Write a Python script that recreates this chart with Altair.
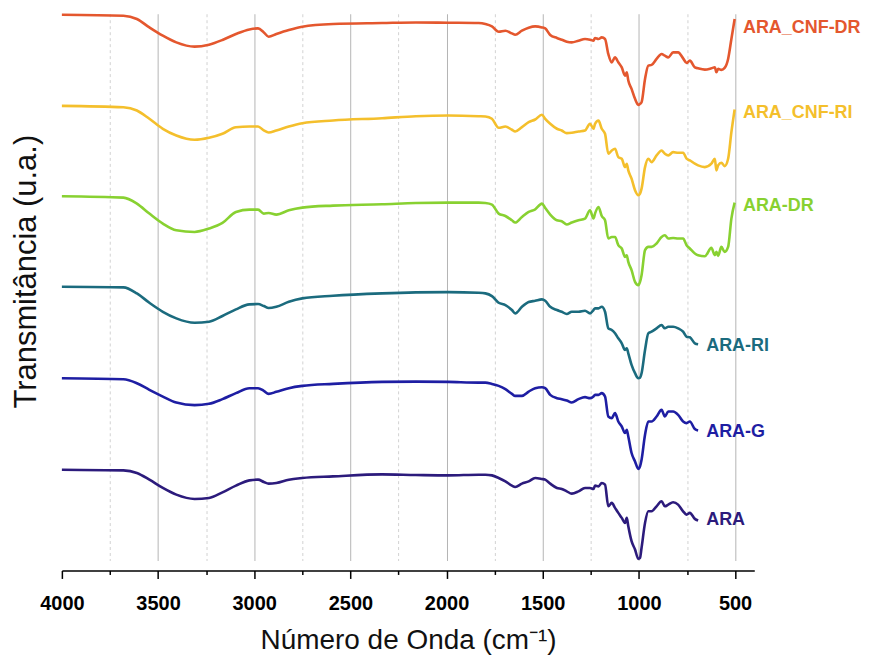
import altair as alt
import pandas as pd

# Wavenumber grid (cm-1)
wavenumber = [4000, 3680, 3610, 3545, 3475, 3405, 3310, 3235, 3165, 3095, 3025, 2980, 2950, 2925, 2885,
              2820, 2750, 2590, 2335, 2160, 1990,
              1833, 1798, 1764, 1729, 1694, 1660, 1643, 1608, 1573, 1539,
              1504, 1487, 1461, 1426, 1401, 1375, 1349, 1314, 1280, 1254,
              1236, 1228, 1210, 1193, 1176, 1159, 1141, 1124, 1107, 1089,
              1072, 1063, 1055, 1038, 1020, 1003, 994, 986, 968, 951,
              934, 908, 882, 865, 847, 822, 796, 770, 752, 735,
              709, 692,
              657, 623, 605, 597, 588, 571, 554, 536, 519, 502]

series_names = ["ARA_CNF-DR", "ARA_CNF-RI", "ARA-DR", "ARA-RI", "ARA-G", "ARA"]
series_colors = ["#E4572E", "#F4BF2C", "#88D131", "#1B6B7E", "#1E1EA3", "#2C1B7C"]

t_ara_cnf_dr = [586, 585, 581.7, 573.3, 565, 558.3, 554, 556, 560.7, 566.7, 571.3, 572.3, 568.3, 564, 566.7,
                570.7, 574, 576.7, 577.7, 578.3, 578,
                577.7, 576.7, 574.3, 569, 570, 567.3, 566, 570, 573, 574.3,
                573.3, 572.3, 565.7, 562.7, 561, 559, 558.3, 560, 561.7, 561,
                560, 562.7, 561.7, 563.3, 561.7, 546.7, 538.3, 543.3, 538.3, 533.3,
                525, 528.3, 520, 511.7, 501.7, 495.7, 496.7, 498.3, 521.7, 535,
                535.7, 541.7, 546.7, 545, 543.3, 548.3, 548.3, 542.3, 537.7, 540,
                533.3, 532.3,
                531, 532.3, 533.3, 528.3, 531.7, 530.7, 532.7, 541.7, 561.7, 581.7]

t_ara_cnf_ri = [494.7, 493.3, 490, 481.7, 471.7, 465, 460.7, 462.7, 466.7, 473.3, 474, 474, 470, 468, 470,
                474, 477.3, 480, 482.3, 484.3, 485,
                484.3, 484, 481.7, 472.7, 474, 470.7, 469, 473.3, 478.3, 481,
                485.7, 481.7, 476.7, 471.7, 470, 467.3, 467.7, 469, 470, 476.7,
                471.7, 476.7, 480, 471.7, 466.7, 446.7, 450, 451.7, 443.3, 441.7,
                433.3, 436.7, 430, 421.7, 410, 405, 406.7, 411.7, 433.3, 441.7,
                438.3, 445, 450, 446.7, 445, 448.3, 447.7, 447.7, 441.7, 440,
                436.7, 435,
                433.3, 436.7, 441.7, 430, 435, 437.7, 434.3, 441.7, 468.3, 491]

t_ara_dr = [404, 402.7, 396.7, 386.7, 376.7, 370, 368.3, 371.7, 377.3, 388.3, 390.7, 390.7, 386.7, 387.3, 385.7,
            390, 392.7, 394.7, 396, 397.3, 397.7,
            397.7, 397.3, 395.7, 386.7, 384.3, 380, 377.7, 383.3, 388.3, 391,
            396.7, 392.3, 385.7, 380, 379, 375.7, 377.7, 380, 381.7, 390,
            381.7, 386.7, 393.3, 384.3, 380, 361.7, 363.3, 363.3, 355, 351.7,
            343.3, 345, 338.3, 330, 318.3, 315, 318.3, 325, 350, 353.3,
            353.3, 356.7, 363.3, 365, 361.7, 362.3, 361.7, 361.7, 355, 351.7,
            346.7, 345,
            344, 352.3, 345, 348.3, 344.3, 353.3, 348.3, 353.3, 381.7, 397.7]

t_ara_ri = [313.3, 312.7, 306.7, 297.3, 288.3, 281.7, 277.3, 278.3, 284, 290.7, 295.7, 296, 294, 292, 293.3,
            298.3, 301.7, 304.3, 306.7, 307.7, 308,
            307.3, 306.7, 304, 297.3, 295, 290, 286.7, 293.3, 298, 299.3,
            300.7, 299.3, 293.3, 290, 288.3, 286, 288.3, 288.3, 289.3, 286.7,
            290, 291.7, 291.7, 293.3, 288.3, 271.7, 270, 266.7, 261.7, 256.7,
            250, 251.7, 246.7, 235, 226.7, 221.7, 222.3, 226.7, 250, 266.7,
            268.3, 271.7, 275, 271.7, 273.3, 273.3, 271.7, 268.3, 263.3, 262.7,
            256.7, 255.7]

t_ara_g = [221.7, 220.7, 216.7, 210, 203.3, 197.3, 194.7, 196, 200.7, 206.7, 211.7, 211.7, 209, 206, 208,
           211.7, 214, 216, 218, 218.3, 218,
           217.3, 217.3, 216, 214, 210.7, 206, 204, 204, 208.3, 211.7,
           212.7, 211.7, 205, 201.7, 200.7, 199.3, 197.3, 200.7, 202.7, 201.7,
           203.3, 205, 205, 206.7, 203.3, 183.3, 181.7, 186.7, 178.3, 173.3,
           166.7, 170, 163.3, 146.7, 138.3, 130.7, 133.3, 140, 165, 178.3,
           178.3, 183.3, 190, 183.3, 188.3, 188.3, 185, 178.3, 176.7, 178.3,
           170.7, 169.3]

t_ara = [130, 129.3, 126.7, 120, 111.7, 105, 100.7, 101.7, 107.3, 114, 119.3, 120, 117.7, 116, 116.7,
         120, 121.7, 123.3, 125.3, 124.7, 124.3,
         125, 125, 124.3, 121.7, 118.3, 114, 112.7, 116, 118.3, 121.7,
         120.7, 120, 116, 111.7, 110.7, 108.3, 106, 108.3, 111.7, 111.7,
         110.7, 114, 113.3, 116.7, 115, 93.3, 96.7, 91.7, 86.7, 81.7,
         76.7, 81.7, 73.3, 58.3, 50, 40.7, 41.7, 51.7, 76.7, 88.3,
         88.3, 93.3, 98.3, 93.3, 95, 97.3, 95, 88.3, 85, 86.7,
         80.7, 79]

# label anchor (wavenumber, transmittance) for each series name
label_wn = [459, 459, 459, 650, 650, 650]
label_t = [573, 488, 394, 254, 168, 80]

tick_values = [4000, 3750, 3500, 3250, 3000, 2750, 2500, 2250, 2000, 1750, 1500, 1250, 1000, 750, 500]

all_series = [t_ara_cnf_dr, t_ara_cnf_ri, t_ara_dr, t_ara_ri, t_ara_g, t_ara]
rows = []
for name, vals in zip(series_names, all_series):
    for w, v in zip(wavenumber, vals):
        rows.append({"series": name, "wn": w, "T": v})
df = pd.DataFrame(rows)
labels = pd.DataFrame({"series": series_names, "wn": label_wn, "T": label_t})

FONT = "Liberation Sans"

x_scale = alt.Scale(domain=[4000, 400], nice=False, zero=False)
y_scale = alt.Scale(domain=[39, 587], nice=False, zero=False)
color = alt.Color("series:N", scale=alt.Scale(domain=series_names, range=series_colors), legend=None)

x_axis = alt.Axis(
    values=tick_values,
    format="d",
    labelExpr="datum.value % 500 === 0 ? datum.label : ''",
    labelFlush=False,
    labelOverlap=False,
    labelFont=FONT,
    labelFontSize=20,
    labelFontWeight="bold",
    labelColor="#000000",
    labelPadding=15,
    title="Número de Onda (cm⁻¹)",
    titleFont=FONT,
    titleFontSize=28,
    titleFontWeight="normal",
    titleColor="#111111",
    titlePadding=13,
    offset=10,
    domainColor="#000000",
    domainWidth=1.5,
    tickColor="#000000",
    tickWidth=1.5,
    tickSize={"condition": {"test": "datum.value % 500 === 0", "value": 8}, "value": 4},
    grid=True,
    gridColor={"condition": {"test": "datum.value % 500 === 0", "value": "#b5b5b5"}, "value": "#d2d2d2"},
    gridDash={"condition": {"test": "datum.value % 500 === 0", "value": []}, "value": [3, 3]},
    gridOpacity={"condition": {"test": "datum.value === 4000", "value": 0}, "value": 1},
    gridWidth=1,
)

y_axis = alt.Axis(
    labels=False,
    ticks=False,
    domain=False,
    grid=False,
    title="Transmitância (u.a.)",
    titleFont=FONT,
    titleFontSize=31,
    titleFontWeight="normal",
    titleColor="#111111",
    titleX=-19,
    titleY=258,
    titleBaseline="bottom",
    titleAngle=270,
)

lines = alt.Chart(df).mark_line(strokeWidth=2.6, interpolate="monotone").encode(
    x=alt.X("wn:Q", scale=x_scale, axis=x_axis),
    y=alt.Y("T:Q", scale=y_scale, axis=y_axis),
    color=color,
)

text = alt.Chart(labels).mark_text(
    align="left", baseline="middle", font=FONT, fontSize=18, fontWeight="bold"
).encode(
    x=alt.X("wn:Q", scale=x_scale),
    y=alt.Y("T:Q", scale=y_scale),
    text="series:N",
    color=color,
)

chart = alt.layer(lines, text).properties(
    width=694,
    height=548,
    autosize=alt.AutoSizeParams(type="none"),
    padding={"left": 54, "top": 5, "right": 120, "bottom": 102},
).configure_view(stroke=None)

chart.save("out.html", embed_options={"renderer": "svg", "actions": False})
